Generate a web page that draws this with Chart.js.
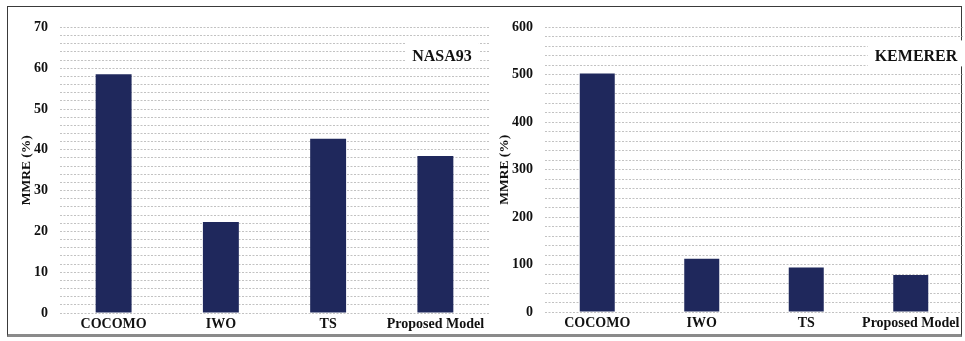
<!DOCTYPE html>
<html>
<head>
<meta charset="utf-8">
<script src="https://cdn.jsdelivr.net/npm/chart.js@4/dist/chart.umd.min.js"></script>
<style>
  html, body { margin: 0; padding: 0; background: #fff; }
  body { width: 965px; height: 341px; position: relative; overflow: hidden; }
  #frame {
    position: absolute; left: 7px; top: 6px; width: 955px; height: 331px;
    border: 1px solid #3a3a3a; border-bottom: 3px solid #8a8a8a; box-sizing: border-box;
  }
  .panel { position: absolute; top: 7px; height: 330px; }
  #nasa { left: 8px; width: 481px; }
  #kem { left: 489px; width: 474px; }
</style>
</head>
<body>
<div id="frame"></div>
<div class="panel" id="nasa"><canvas id="cNasa"></canvas></div>
<div class="panel" id="kem"><canvas id="cKem"></canvas></div>
<script>
// Estimation models compared
const categories = ['COCOMO', 'IWO', 'TS', 'Proposed Model'];

// MMRE (%) per model on each dataset
const nasa93Mmre = [58.5, 22.3, 42.7, 38.5];
const kemererMmre = [503, 112, 94, 78];

// Labelled y ticks; grid lines are drawn at every minor step
const nasa93TickLabels = [0, 10, 20, 30, 40, 50, 60, 70];
const nasa93MinorStep = 2;
const kemererTickLabels = [0, 100, 200, 300, 400, 500, 600];
const kemererMinorStep = 20;

const serif = "'Liberation Serif', 'Times New Roman', serif";
const barColor = '#1f285c';

// Dataset name drawn inside the plot on a white patch
const panelLabel = {
  id: 'panelLabel',
  afterDraw(chart, args, opts) {
    const ctx = chart.ctx;
    const a = chart.chartArea;
    ctx.save();
    ctx.font = 'bold 16px ' + serif;
    const w = ctx.measureText(opts.text).width;
    const cx = a.right - opts.offsetRight;
    const cy = a.top + 29;
    ctx.fillStyle = '#ffffff';
    ctx.fillRect(cx - w / 2 - 7, cy - 16, w + 14, 26);
    ctx.fillStyle = '#111';
    ctx.textAlign = 'center';
    ctx.textBaseline = 'middle';
    ctx.fillText(opts.text, cx, cy);
    ctx.restore();
  }
};

function makeChart(id, values, tickLabels, step, yWidth, xHeight, titlePad, labelText, labelOffset) {
  const maxV = tickLabels[tickLabels.length - 1];
  return new Chart(document.getElementById(id), {
    type: 'bar',
    data: {
      labels: categories,
      datasets: [{
        data: values,
        backgroundColor: barColor,
        borderWidth: 0,
        categoryPercentage: 1.0,
        barPercentage: 0.335
      }]
    },
    options: {
      responsive: true,
      maintainAspectRatio: false,
      animation: false,
      layout: { padding: { top: 16, right: 0, left: 0, bottom: 0 } },
      plugins: {
        legend: { display: false },
        tooltip: { enabled: false },
        panelLabel: { text: labelText, offsetRight: labelOffset }
      },
      scales: {
        x: {
          grid: { display: false, drawTicks: false },
          border: { display: false },
          ticks: {
            color: '#111',
            padding: 3,
            maxRotation: 0,
            autoSkip: false,
            font: { family: serif, size: 14, weight: 'bold' }
          },
          afterFit(scale) { scale.height = xHeight; }
        },
        y: {
          min: 0,
          max: maxV,
          grid: {
            color: '#c2c2c2',
            lineWidth: 1,
            drawTicks: false
          },
          border: { display: false, dash: [2, 1.5] },
          ticks: {
            stepSize: step,
            color: '#111',
            padding: 12,
            autoSkip: false,
            font: { family: serif, size: 14, weight: 'bold' },
            callback: (v) => tickLabels.includes(v) ? String(v) : ''
          },
          title: {
            display: true,
            text: 'MMRE (%)',
            color: '#111',
            padding: { top: titlePad, bottom: 0 },
            font: { family: serif, size: 13.5, weight: 'bold' }
          },
          afterFit(scale) { scale.width = yWidth; }
        }
      }
    },
    plugins: [panelLabel]
  });
}

makeChart('cNasa', nasa93Mmre, nasa93TickLabels, nasa93MinorStep, 52, 24, 10, 'NASA93', 47);
makeChart('cKem', kemererMmre, kemererTickLabels, kemererMinorStep, 56, 25, 7, 'KEMERER', 47);
</script>
</body>
</html>
